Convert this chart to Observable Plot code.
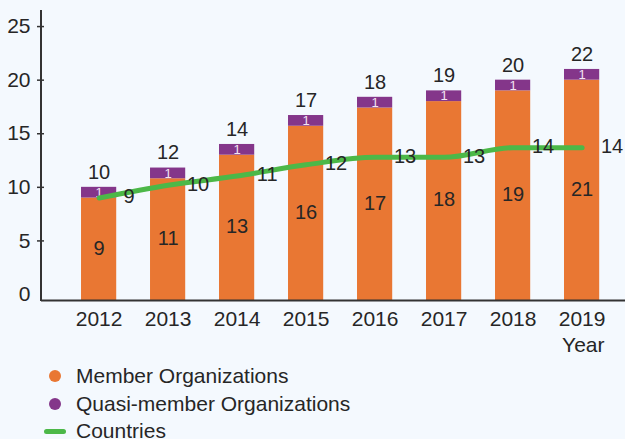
<!DOCTYPE html>
<html>
<head>
<meta charset="utf-8">
<script src="https://cdn.jsdelivr.net/npm/d3@7"></script>
<script src="https://cdn.jsdelivr.net/npm/@observablehq/plot@0.6"></script>
<style>
  html, body { margin: 0; padding: 0; background: #f4f9fe; }
  body { font-family: "Liberation Sans", Arial, sans-serif; color: #262626; width: 625px; height: 439px; overflow: hidden; }
  #legend { margin-top: 2px; }
  #legend .row { position: relative; height: 28px; display: flex; align-items: center; padding-left: 76px; font-size: 21px; white-space: nowrap; }
  #legend .row.last { height: 26px; margin-top: 0px; }
  #legend .dot { position: absolute; left: 49px; top: 8px; width: 12px; height: 12px; border-radius: 50%; }
  #legend .line { position: absolute; left: 44px; top: 11px; width: 22px; height: 5px; border-radius: 3px; }
</style>
</head>
<body>
<div id="chart"></div>
<div id="legend"></div>
<script>
// ---- data ----
const years = ["2012", "2013", "2014", "2015", "2016", "2017", "2018", "2019"];
const memberValues = [9, 10.8, 13, 15.7, 17.4, 18, 19, 20];
const quasiValues = [1, 1, 1, 1, 1, 1, 1, 1];
const memberLabels = ["9", "11", "13", "16", "17", "18", "19", "21"];
const quasiLabels = ["1", "1", "1", "1", "1", "1", "1", "1"];
const totalLabels = ["10", "12", "14", "17", "18", "19", "20", "22"];
const countryValues = [9, 10.2, 11.05, 12.1, 12.8, 12.8, 13.7, 13.7];
const countryLabels = ["9", "10", "11", "12", "13", "13", "14", "14"];
const yTicks = [0, 5, 10, 15, 20, 25];
const seriesNames = ["Member Organizations", "Quasi-member Organizations", "Countries"];
const seriesColors = ["#e97733", "#84368a", "#4cb848"];
const xTitle = "Year";

const table = years.map((year, i) => ({
  year,
  member: memberValues[i],
  quasi: quasiValues[i],
  total: memberValues[i] + quasiValues[i],
  memberLabel: memberLabels[i],
  quasiLabel: quasiLabels[i],
  totalLabel: totalLabels[i],
  country: countryValues[i],
  countryLabel: countryLabels[i]
}));

const textColor = "#262626";

const plot = Plot.plot({
  width: 625,
  height: 360,
  marginLeft: 41,
  marginRight: 0,
  marginTop: 10,
  marginBottom: 66,
  style: { background: "transparent", fontFamily: "'Liberation Sans', Arial, sans-serif", fontSize: "21px", color: textColor, overflow: "visible" },
  x: { domain: years, paddingInner: 0.49, paddingOuter: 0.477, align: 0.608, round: false },
  y: { domain: [0, 26.5] },
  marks: [
    Plot.barY(table, { x: "year", y1: 0, y2: "member", fill: seriesColors[0], insetBottom: -6 }),
    Plot.barY(table, { x: "year", y1: "member", y2: "total", fill: seriesColors[1] }),
    Plot.text(table, { x: "year", y: d => d.member / 2, text: "memberLabel", fontSize: 20, fill: textColor, dy: 2 }),
    Plot.text(table, { x: "year", y: d => d.member + d.quasi / 2, text: "quasiLabel", fontSize: 13, fill: "#f3e4f3" }),
    Plot.text(table, { x: "year", y: "total", text: "totalLabel", fontSize: 20, fill: textColor, dy: -15 }),
    Plot.line(table, { x: "year", y: "country", stroke: seriesColors[2], strokeWidth: 5, curve: "monotone-x", strokeLinecap: "round" }),
    Plot.text(table, { x: "year", y: "country", text: "countryLabel", fontSize: 20, fill: textColor, dx: 30, dy: -1 }),
    Plot.ruleY([0], { dy: 6, stroke: "#333", strokeWidth: 2 }),
    Plot.axisY({ ticks: yTicks, tickSize: 0, tickPadding: 11, fontSize: 21, fill: textColor, label: null }),
    Plot.axisY({ ticks: yTicks.filter(t => t > 0), tickSize: 7, dx: 3, tickFormat: () => "", stroke: "#333", strokeWidth: 1.5, label: null }),
    Plot.axisX({ tickSize: 0, tickPadding: 17, fontSize: 21, fill: textColor, label: null }),
    Plot.text([xTitle], { frameAnchor: "bottom-right", textAnchor: "end", lineAnchor: "middle", dx: -21, dy: 51, fontSize: 21, fill: textColor })
  ]
});

// y axis line, from the top of the y range down to the x axis line
const ys = plot.scale("y");
const xs = plot.scale("x");
d3.select(plot).append("line")
  .attr("x1", xs.range[0]).attr("x2", xs.range[0])
  .attr("y1", ys.range[1]).attr("y2", ys.range[0] + 7)
  .attr("stroke", "#333").attr("stroke-width", 2);

document.getElementById("chart").appendChild(plot);

// legend
const legend = d3.select("#legend");
seriesNames.forEach((name, i) => {
  const row = legend.append("div").attr("class", "row" + (i === seriesNames.length - 1 ? " last" : ""));
  row.append("span").attr("class", i < 2 ? "dot" : "line").style("background", seriesColors[i]);
  row.append("span").text(name);
});
</script>
</body>
</html>
